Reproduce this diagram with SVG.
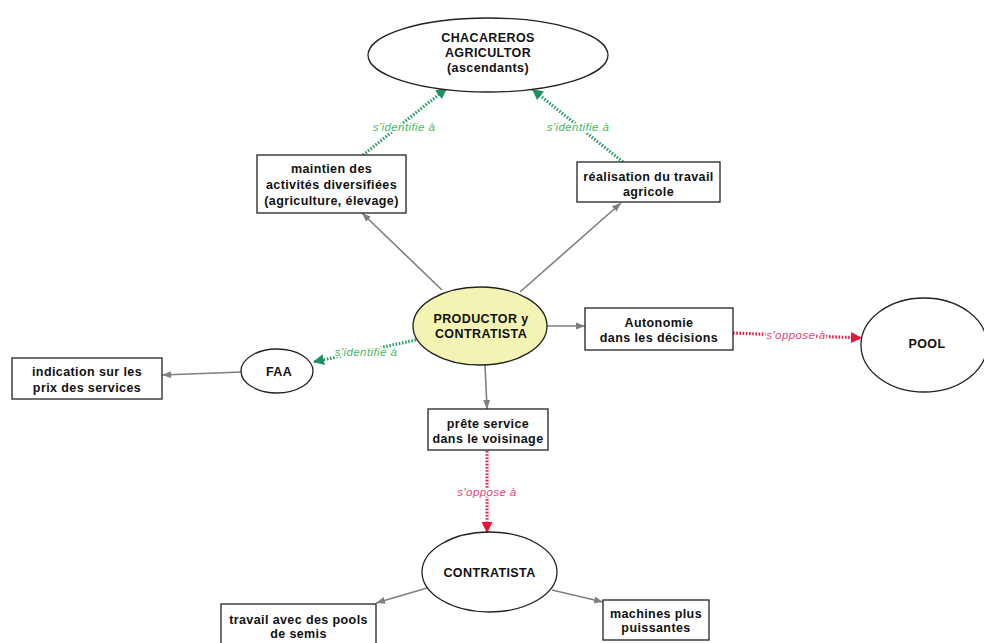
<svg xmlns="http://www.w3.org/2000/svg" width="984" height="643" viewBox="0 0 984 643">
<defs>
<style>
.node{fill:#fff;stroke:#222;stroke-width:1.3}
.prod{fill:#f3f4b4;stroke:#222;stroke-width:1.3}
.t{font-family:"Liberation Sans",Arial,sans-serif;font-weight:bold;font-size:12.5px;letter-spacing:0.4px;fill:#111;text-anchor:middle}
.g{stroke:#7f7f7f;stroke-width:1.6;fill:none;marker-end:url(#ag)}
.gr{stroke:#2f9e68;stroke-width:3.2;stroke-dasharray:1.6 1.6;fill:none;marker-end:url(#agr)}
.rd{stroke:#e3204e;stroke-width:3.2;stroke-dasharray:1.6 1.6;fill:none;marker-end:url(#ard)}
.lg{font-family:"Liberation Sans",Arial,sans-serif;font-style:italic;font-size:11.5px;letter-spacing:0.4px;fill:#45b866;text-anchor:middle;stroke:#fff;stroke-width:3;paint-order:stroke}
.lr{font-family:"Liberation Sans",Arial,sans-serif;font-style:italic;font-size:11.5px;letter-spacing:0.4px;fill:#e2457a;text-anchor:middle;stroke:#fff;stroke-width:3;paint-order:stroke}
</style>
<marker id="ag" markerUnits="userSpaceOnUse" markerWidth="10" markerHeight="8" refX="9" refY="4" orient="auto"><path d="M0,0.5 L9,4 L0,7.5 Z" fill="#7f7f7f"/></marker>
<marker id="agr" markerUnits="userSpaceOnUse" markerWidth="12" markerHeight="12" refX="11" refY="6" orient="auto"><path d="M0,0.5 L11,6 L0,11.5 Z" fill="#1f9060"/></marker>
<marker id="ard" markerUnits="userSpaceOnUse" markerWidth="12" markerHeight="12" refX="11" refY="6" orient="auto"><path d="M0,0.5 L11,6 L0,11.5 Z" fill="#e8163e"/></marker>
</defs>
<rect width="984" height="643" fill="#fff"/>

<g id="connectors">
<line class="g" x1="442" y1="290" x2="362" y2="213"/>
<line class="g" x1="520" y1="292" x2="621" y2="203"/>
<line class="g" x1="547" y1="326" x2="585" y2="326"/>
<line class="g" x1="485" y1="365" x2="487" y2="409"/>
<line class="g" x1="242" y1="372" x2="162" y2="375"/>
<line class="g" x1="427" y1="588" x2="376" y2="603"/>
<line class="g" x1="552" y1="590" x2="603" y2="602"/>
<line class="gr" x1="363" y1="155" x2="447" y2="88"/>
<line class="gr" x1="623" y1="162" x2="532" y2="89"/>
<line class="gr" x1="416" y1="340" x2="313" y2="362"/>
<line class="rd" x1="733" y1="333" x2="862" y2="338"/>
<line class="rd" x1="487" y1="451" x2="487" y2="533"/>
<text class="lg" x="404" y="131">s'identifie à</text>
<text class="lg" x="578" y="131">s'identifie à</text>
<text class="lg" x="366" y="356">s'identifie à</text>
<text class="lr" x="796" y="339">s'oppose à</text>
<text class="lr" x="487" y="496">s'oppose à</text>
</g>

<g id="chacareros">
<ellipse class="node" cx="488" cy="55" rx="120" ry="37"/>
<text class="t" x="488" y="41.5">CHACAREROS</text>
<text class="t" x="488" y="56.5">AGRICULTOR</text>
<text class="t" x="488" y="71.5">(ascendants)</text>
</g>

<g id="maintien">
<rect class="node" x="257" y="155" width="149" height="58"/>
<text class="t" x="331.5" y="172.5">maintien des</text>
<text class="t" x="331.5" y="188.5">activités diversifiées</text>
<text class="t" x="331.5" y="204.5">(agriculture, élevage)</text>
</g>

<g id="realisation">
<rect class="node" x="577" y="162" width="143" height="40"/>
<text class="t" x="648.5" y="180.5">réalisation du travail</text>
<text class="t" x="648.5" y="195.5">agricole</text>
</g>

<g id="productor">
<ellipse class="prod" cx="480" cy="326" rx="67" ry="39"/>
<text class="t" x="481" y="322.5">PRODUCTOR y</text>
<text class="t" x="481" y="337.5">CONTRATISTA</text>
</g>

<g id="autonomie">
<rect class="node" x="585" y="308" width="148" height="42"/>
<text class="t" x="659" y="326.5">Autonomie</text>
<text class="t" x="659" y="341.5">dans les décisions</text>
</g>

<g id="pool">
<ellipse class="node" cx="924" cy="345" rx="63" ry="47"/>
<text class="t" x="927" y="347.5">POOL</text>
</g>

<g id="faa">
<ellipse class="node" cx="277" cy="371" rx="36" ry="22"/>
<text class="t" x="279" y="376">FAA</text>
</g>

<g id="indication">
<rect class="node" x="12" y="358" width="150" height="41"/>
<text class="t" x="87" y="375.5">indication sur les</text>
<text class="t" x="87" y="391.5">prix des services</text>
</g>

<g id="prete">
<rect class="node" x="428" y="409" width="120" height="41"/>
<text class="t" x="488" y="427.5">prête service</text>
<text class="t" x="488" y="442.5">dans le voisinage</text>
</g>

<g id="contratista">
<ellipse class="node" cx="489.5" cy="572" rx="67.5" ry="40"/>
<text class="t" x="489.5" y="576.5">CONTRATISTA</text>
</g>

<g id="travail">
<rect class="node" x="221" y="604" width="155" height="50"/>
<text class="t" x="298.5" y="623.5">travail avec des pools</text>
<text class="t" x="298.5" y="637.5">de semis</text>
</g>

<g id="machines">
<rect class="node" x="603" y="600" width="106" height="40"/>
<text class="t" x="656" y="617.5">machines plus</text>
<text class="t" x="656" y="631.5">puissantes</text>
</g>
</svg>
